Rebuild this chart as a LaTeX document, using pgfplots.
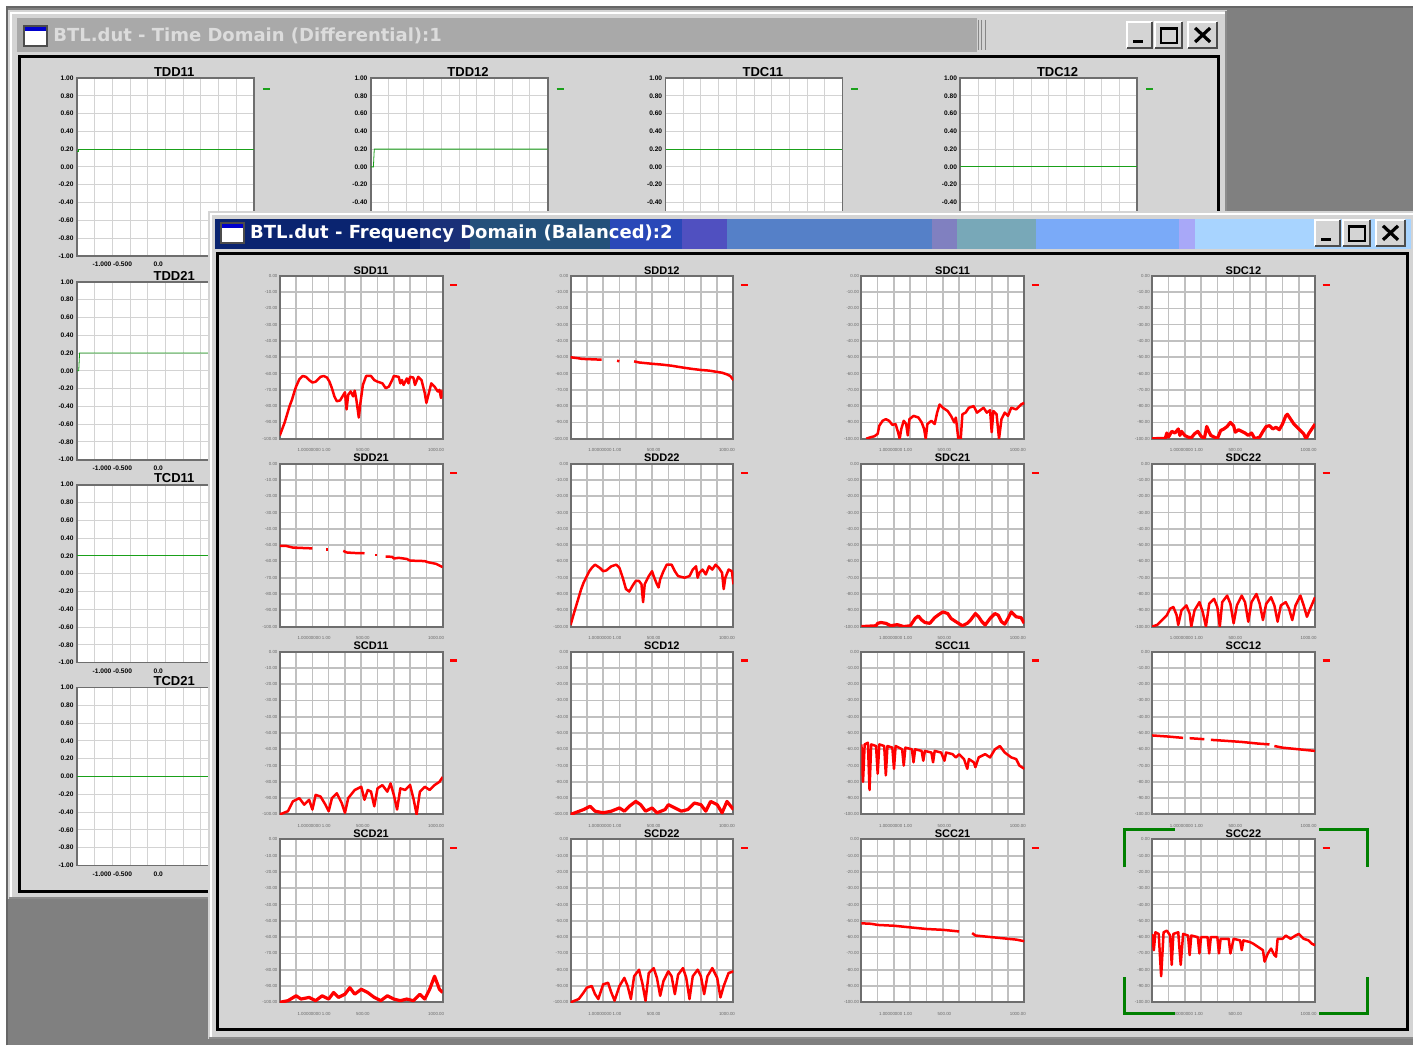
\documentclass[border=0pt]{standalone}
\usepackage{fontspec}
\setmainfont{Liberation Sans}
\newfontfamily\dvs{DejaVu Sans}
\usepackage{pgfplots}
\pgfplotsset{compat=1.18}
\definecolor{win}{HTML}{D4D4D4}
\definecolor{mdi}{HTML}{808080}
\definecolor{inact}{HTML}{A9A9A9}
\definecolor{gridc}{HTML}{C0C0C0}
\definecolor{framec}{HTML}{6E6E6E}
\definecolor{tgreen}{HTML}{1AA01A}
\definecolor{selgreen}{HTML}{008000}
\definecolor{labc}{HTML}{6A6A6A}
\definecolor{ttext}{HTML}{DCDCDC}
\definecolor{tba}{HTML}{0A2470}
\definecolor{tbb}{HTML}{1A3078}
\definecolor{tbc}{HTML}{24507A}
\definecolor{tbd}{HTML}{2A48B8}
\definecolor{tbe}{HTML}{5050C0}
\definecolor{tbf}{HTML}{5580C8}
\definecolor{tbg}{HTML}{8080C0}
\definecolor{tbh}{HTML}{78A8B8}
\definecolor{tbi}{HTML}{7AAAF8}
\definecolor{tbj}{HTML}{A8A8F8}
\definecolor{tbk}{HTML}{A8D4FF}

\pgfplotsset{
 base/.style={scale only axis, xmin=0,xmax=10,ymin=0,ymax=10,
   axis background/.style={fill=white},
   xtick={0,...,10}, ytick={0,...,10}, xticklabels={},
   grid=major, major tick length=0pt, no markers,
   every axis title shift=0pt,
   /pgf/number format/assume math mode=true,
   legend image code/.code={\draw[##1,line width=1.1pt](0pt,0pt)--(3.5pt,0pt);},
   legend style={draw=none, fill=none, inner sep=0pt, outer sep=0pt, anchor=west,
     font=\fontsize{1}{1}\selectfont},
 },
 fd/.style={base, width=81.5pt, height=81.5pt,
   major grid style={draw=gridc, line width=0.8pt},
   axis line style={draw=framec, line width=1pt},
   yticklabels={-100.00,-90.00,-80.00,-70.00,-60.00,-50.00,-40.00,-30.00,-20.00,-10.00,0.00},
   yticklabel style={font=\fontsize{2.2}{2.4}\selectfont, text=labc, inner sep=1pt},
   extra x ticks={2.1,5.1,9.6}, extra x tick labels={1.00000000 1.00, 500.00, 1000.00},
   extra x tick style={grid=none, xticklabel style={font=\fontsize{2.2}{2.4}\selectfont, text=labc, yshift=-1.5pt}},
   title style={at={(0.56,1)}, anchor=south, inner sep=0.6pt, yshift=0pt, font=\fontsize{5.5}{6}\selectfont\bfseries},
   cycle list={{red,line width=1.25pt,line join=round},{red,line width=1.25pt,line join=round},{red,line width=1.25pt,line join=round},{red,line width=1.25pt,line join=round},{red,line width=1.25pt,line join=round}},
   legend style={at={(1.04,0.945)}},
 },
 td/.style={base, width=88.5pt, height=89pt,
   major grid style={draw=gridc!70, line width=0.45pt},
   axis line style={draw=framec, line width=0.9pt},
   yticklabels={-1.00,-0.80,-0.60,-0.40,-0.20,0.00,0.20,0.40,0.60,0.80,1.00},
   yticklabel style={font=\fontsize{3.3}{3.5}\selectfont\bfseries, inner sep=1.5pt},
   title style={at={(0.55,1)}, anchor=south, inner sep=0.6pt, yshift=0pt, font=\fontsize{6.5}{7}\selectfont\bfseries},
   cycle list={{tgreen, line width=1.1pt}},
   legend style={at={(1.045,0.94)}},
 },
 tdtop/.style={td, yticklabels={,,,-0.40,-0.20,0.00,0.20,0.40,0.60,0.80,1.00}},
 tdx/.style={td,
   extra x ticks={2,4.6}, extra x tick labels={-1.000 -0.500, 0.0},
   extra x tick style={grid=none, xticklabel style={font=\fontsize{3.3}{3.5}\selectfont\bfseries, yshift=0.5pt}},
 },
}
% place axis north-west corner at reference pixel (x,y)
\newcommand{\PX}[2]{at={({0.5pt*#1},{-0.5pt*#2})}, anchor=north west}

\newcommand{\btns}[2]{%
 \begin{scope}[shift={(#1,#2)}]
  \foreach \a/\b in {0/25,28/55,61/90}{
   \fill[win] (\a,0) rectangle (\b,26);
   \draw[white,line width=1pt] (\a,26)--(\a,0)--(\b,0);
   \draw[black!70,line width=1pt] (\a,26)--(\b,26)--(\b,0);
  }
  \draw[black,line width=1.5pt] (6,20)--(16,20);
  \draw[black,line width=0.8pt] (34,6) rectangle (50,21);
  \draw[black,line width=1.5pt] (34,7)--(50,7);
  \draw[black,line width=1.6pt] (68,6)--(83,20) (68,20)--(83,6);
 \end{scope}}

\begin{document}
\begin{tikzpicture}[x=0.5pt,y=-0.5pt]
\fill[white] (0,0) rectangle (1414,1051);
\fill[mdi] (7,7) rectangle (1414,1046);
\draw[black!60, line width=1pt] (7,1046)--(7,7)--(1414,7);

% ---------------- time domain window
\fill[win] (8,10) rectangle (1228,900);
\draw[white, line width=1pt] (11,898)--(11,13)--(1226,13);
\draw[black!45, line width=1pt] (9,899)--(1227,899)--(1227,11);
\fill[inact] (17,18) rectangle (978,52);
\foreach \xx in {979,982,986} \draw[inact!80!black, line width=0.5pt] (\xx,20)--(\xx,50);
\fill[white] (24,26) rectangle (47,46);
\draw[black!70, line width=0.7pt] (24,26) rectangle (47,46);
\fill[blue!80!black] (25,27) rectangle (46,31);
\node[anchor=west, inner sep=0pt, text=ttext, font=\dvs\bfseries\fontsize{9}{10}\selectfont] at (53,36) {BTL.dut - Time Domain (Differential):1};
\btns{1128}{22}
\draw[black, line width=1.5pt, fill=win] (20,57) rectangle (1219,892);

\begin{axis}[tdx, \PX{77}{78}, title={TDD11}]
\addplot coordinates {(0,5.85)(0.06,5.85)(0.06,6)(10,6)}; \addlegendentry{}
\end{axis}
\begin{axis}[tdtop, \PX{371}{78}, title={TDD12}]
\addplot coordinates {(0,5)(0.15,5)(0.2,6)(10,6)}; \addlegendentry{}
\end{axis}
\begin{axis}[tdtop, \PX{666}{78}, title={TDC11}]
\addplot coordinates {(0,6)(10,6)}; \addlegendentry{}
\end{axis}
\begin{axis}[tdtop, \PX{961}{78}, title={TDC12}]
\addplot coordinates {(0,5)(10,5)}; \addlegendentry{}
\end{axis}
\begin{axis}[tdx, \PX{77}{282}, title={TDD21}]
\addplot coordinates {(0,5)(0.1,5)(0.15,6)(10,6)}; \addlegendentry{}
\end{axis}
\begin{axis}[tdx, \PX{77}{485}, title={TCD11}]
\addplot coordinates {(0,6)(10,6)}; \addlegendentry{}
\end{axis}
\begin{axis}[tdx, \PX{77}{688}, title={TCD21}]
\addplot coordinates {(0,5)(10,5)}; \addlegendentry{}
\end{axis}

% ---------------- frequency domain window
\fill[win] (208,211) rectangle (1414,1040);
\draw[white, line width=1pt] (211,1038)--(211,214)--(1414,214);
\draw[black!45, line width=1pt] (209,1039)--(1414,1039);
\fill[tba] (215,219) rectangle (420,249);
\fill[tbb] (420,219) rectangle (470,249);
\fill[tbc] (470,219) rectangle (610,249);
\fill[tbd] (610,219) rectangle (682,249);
\fill[tbe] (682,219) rectangle (728,249);
\fill[tbf] (728,219) rectangle (933,249);
\fill[tbg] (933,219) rectangle (958,249);
\fill[tbh] (958,219) rectangle (1037,249);
\fill[tbi] (1037,219) rectangle (1180,249);
\fill[tbj] (1180,219) rectangle (1196,249);
\fill[tbk] (1196,219) rectangle (1412,249);
\fill[white] (221,223) rectangle (244,243);
\draw[black!70, line width=0.7pt] (221,223) rectangle (244,243);
\fill[blue!80!black] (222,224) rectangle (243,228);
\node[anchor=west, inner sep=0pt, text=white, font=\dvs\bfseries\fontsize{9}{10}\selectfont] at (250,234) {BTL.dut - Frequency Domain (Balanced):2};
\btns{1316}{220}
\draw[black, line width=1.5pt, fill=win] (218,254) rectangle (1408,1030);

% row 1
\begin{axis}[fd, \PX{280}{276}, title={SDD11}]
\addplot coordinates {(0,0.2)(0.15,0.6)(0.3,1.0)(0.45,1.5)(0.6,2.0)(0.75,2.4)(0.9,2.9)(1.0,3.2)(1.2,3.65)(1.4,3.85)(1.6,3.8)(1.8,3.6)(2.0,3.45)(2.2,3.5)(2.5,3.8)(2.7,3.85)(2.9,3.75)(3.05,3.5)(3.2,3.1)(3.35,2.6)(3.5,2.3)(3.7,2.35)(3.85,2.6)(4.0,2.85)(4.1,1.8)(4.2,2.7)(4.35,2.9)(4.5,2.6)(4.6,2.95)(4.7,2.4)(4.85,1.3)(4.95,2.2)(5.1,3.3)(5.3,3.85)(5.6,3.85)(5.8,3.6)(6.0,3.5)(6.3,3.4)(6.5,3.1)(6.7,3.2)(6.9,3.6)(7.0,3.85)(7.3,3.8)(7.4,3.4)(7.5,3.6)(7.6,3.3)(7.8,3.7)(7.9,3.4)(8.0,3.8)(8.2,3.75)(8.3,3.3)(8.5,3.8)(8.7,3.6)(8.9,2.8)(9.0,2.2)(9.1,2.6)(9.3,3.4)(9.5,3.2)(9.7,2.9)(9.8,3.0)(9.9,2.5)(10,3.0)}; \addlegendentry{}
\end{axis}
\begin{axis}[fd, \PX{571}{276}, title={SDD12}]
\addplot coordinates {(0,5.0)(0.4,4.95)(0.7,4.9)(1.2,4.88)(1.9,4.85)}; \addlegendentry{}
\addplot coordinates {(2.85,4.78)(3.0,4.76)};
\addplot coordinates {(3.9,4.75)(4.2,4.68)(5.0,4.6)(5.6,4.55)(6.2,4.48)(7.0,4.35)(7.5,4.28)(8.0,4.22)(8.5,4.18)(9.0,4.1)(9.3,4.05)(9.6,3.95)(9.8,3.85)(10,3.6)};
\end{axis}
\begin{axis}[fd, \PX{862}{276}, title={SDC11}]
\addplot coordinates {(0.3,0.0)(0.6,0.1)(0.8,0.15)(1.0,0.3)(1.1,0.8)(1.3,1.1)(1.5,1.2)(1.7,1.1)(1.9,0.85)(2.1,0.9)(2.25,0.4)(2.35,0.0)(2.45,0.6)(2.6,1.1)(2.75,0.9)(2.85,0.2)(2.95,1.2)(3.2,1.4)(3.5,1.3)(3.7,1.0)(3.85,0.6)(3.95,0.0)(4.05,0.9)(4.3,1.1)(4.5,0.9)(4.65,1.6)(4.8,2.1)(5.0,1.9)(5.3,1.7)(5.5,1.4)(5.7,1.0)(5.8,1.3)(5.95,0.0)(6.1,0.0)(6.2,1.5)(6.4,1.6)(6.6,1.9)(6.9,2.0)(7.1,1.6)(7.3,1.75)(7.5,1.9)(7.7,1.6)(7.9,1.75)(8.0,0.4)(8.1,1.7)(8.3,1.5)(8.45,0.0)(8.6,1.2)(8.8,1.6)(9.0,1.4)(9.2,1.9)(9.5,1.8)(9.8,2.1)(10,2.2)}; \addlegendentry{}
\end{axis}
\begin{axis}[fd, \PX{1153}{276}, title={SDC12}]
\addplot+[line width=1.6pt] coordinates {(0,0)(0.8,0.02)(0.9,0.35)(1.0,0.1)(1.2,0.45)(1.4,0.35)(1.6,0.6)(1.7,0.2)(1.8,0.45)(2.0,0.2)(2.2,0.1)(2.4,0.05)(2.6,0.3)(2.8,0.45)(3.0,0.15)(3.2,0.0)(3.35,0.75)(3.5,0.4)(3.6,0.2)(3.8,0.1)(4.0,0.0)(4.2,0.5)(4.4,0.6)(4.6,0.75)(4.8,1.0)(5.0,0.8)(5.1,0.4)(5.3,0.55)(5.5,0.45)(5.7,0.35)(5.9,0.2)(6.1,0.35)(6.3,0.0)(6.6,0.1)(6.8,0.45)(7.0,0.75)(7.2,0.8)(7.4,0.6)(7.6,0.7)(7.8,0.55)(8.0,0.9)(8.2,1.4)(8.3,1.5)(8.5,1.2)(8.7,0.9)(8.9,0.7)(9.1,0.5)(9.3,0.3)(9.45,0.0)(9.6,0.3)(9.8,0.6)(10,0.9)}; \addlegendentry{}
\end{axis}

% row 2
\begin{axis}[fd, \PX{280}{464}, title={SDD21}]
\addplot coordinates {(0,4.95)(0.4,4.95)(0.8,4.85)(1.5,4.82)(2.0,4.8)}; \addlegendentry{}
\addplot coordinates {(2.85,4.72)(2.95,4.72)};
\addplot coordinates {(3.9,4.65)(4.1,4.55)(4.5,4.52)(5.2,4.5)};
\addplot coordinates {(5.85,4.4)(5.95,4.4)};
\addplot coordinates {(6.5,4.3)(6.9,4.28)(7.0,4.18)(7.3,4.22)(7.8,4.15)(8.0,4.05)(8.9,4.02)(9.1,3.95)(9.6,3.85)(10,3.65)};
\end{axis}
\begin{axis}[fd, \PX{571}{464}, title={SDD22}]
\addplot coordinates {(0,0.1)(0.2,0.8)(0.35,1.3)(0.5,1.8)(0.65,2.3)(0.8,2.7)(1.0,3.1)(1.15,3.4)(1.3,3.6)(1.5,3.8)(1.8,3.6)(2.0,3.4)(2.2,3.45)(2.5,3.7)(2.8,3.8)(3.0,3.6)(3.2,3.0)(3.4,2.3)(3.6,2.15)(3.8,2.5)(4.0,2.8)(4.2,2.8)(4.35,2.6)(4.45,1.5)(4.55,2.6)(4.8,3.1)(5.0,3.4)(5.1,3.1)(5.3,2.6)(5.4,2.4)(5.5,2.9)(5.7,3.4)(5.9,3.8)(6.2,3.8)(6.4,3.4)(6.6,3.1)(7.0,3.0)(7.3,3.1)(7.5,3.5)(7.7,3.7)(7.8,3.0)(7.9,3.3)(8.1,3.5)(8.3,3.2)(8.5,3.7)(8.7,3.5)(8.9,3.8)(9.1,3.6)(9.3,3.3)(9.4,2.3)(9.5,3.0)(9.7,3.5)(9.9,3.4)(10,2.6)}; \addlegendentry{}
\end{axis}
\begin{axis}[fd, \PX{862}{464}, title={SDC21}]
\addplot+[line width=1.6pt] coordinates {(0,0)(0.9,0.05)(1.0,0.2)(1.2,0.25)(1.5,0.2)(1.8,0.05)(2.2,0.12)(2.6,0.0)(3.0,0.05)(3.3,0.5)(3.5,0.65)(3.7,0.4)(3.9,0.25)(4.2,0.2)(4.5,0.55)(4.7,0.7)(5.0,0.9)(5.3,0.8)(5.5,0.5)(5.8,0.3)(6.2,0.05)(6.5,0.2)(6.7,0.4)(7.0,0.8)(7.2,0.6)(7.4,0.3)(7.6,0.1)(7.9,0.5)(8.2,0.8)(8.4,0.7)(8.6,0.3)(8.8,0.15)(9.0,0.5)(9.2,0.9)(9.5,0.6)(9.8,0.55)(10,0.2)}; \addlegendentry{}
\end{axis}
\begin{axis}[fd, \PX{1153}{464}, title={SDC22}]
\addplot coordinates {(0,0)(0.3,0.1)(0.6,0.4)(0.9,0.7)(1.1,1.1)(1.3,1.2)(1.5,0.7)(1.6,0.1)(1.8,1.0)(2.1,1.3)(2.3,0.8)(2.4,0.0)(2.6,1.0)(2.9,1.5)(3.1,0.9)(3.3,0.0)(3.5,1.4)(3.8,1.7)(4.0,1.2)(4.15,0.0)(4.3,1.5)(4.6,1.9)(4.8,1.4)(5.0,0.2)(5.2,1.3)(5.5,1.9)(5.7,1.5)(5.9,0.3)(6.1,1.5)(6.4,2.0)(6.6,1.4)(6.8,0.4)(7.0,1.4)(7.3,1.8)(7.5,1.3)(7.7,0.3)(7.9,1.3)(8.2,1.5)(8.4,1.1)(8.6,0.4)(8.8,1.3)(9.1,1.9)(9.3,1.3)(9.5,0.6)(9.7,1.1)(10,1.8)}; \addlegendentry{}
\end{axis}

% row 3
\begin{axis}[fd, \PX{280}{652}, title={SCD11}]
\addplot coordinates {(0,0)(0.5,0.2)(0.8,0.8)(1.2,1.0)(1.5,0.6)(1.8,0.9)(2.0,0.3)(2.2,1.2)(2.5,1.1)(2.8,0.6)(3.0,0.2)(3.2,1.0)(3.5,1.3)(3.8,0.7)(4.0,0.1)(4.2,1.0)(4.6,1.5)(5.0,1.7)(5.2,0.9)(5.4,1.5)(5.6,1.4)(5.8,0.5)(6.0,1.6)(6.3,1.8)(6.6,1.4)(6.8,1.9)(7.0,1.2)(7.2,0.3)(7.4,1.6)(7.7,1.5)(8.0,1.8)(8.2,1.0)(8.4,0.0)(8.6,1.4)(8.9,1.7)(9.2,1.5)(9.5,1.8)(9.8,2.0)(10,2.3)}; \addlegendentry{}
\end{axis}
\begin{axis}[fd, \PX{571}{652}, title={SCD12}]
\addplot+[line width=1.6pt] coordinates {(0,0)(0.8,0.3)(1.2,0.5)(1.5,0.2)(2.0,0.1)(2.5,0.2)(3.0,0.4)(3.3,0.2)(3.6,0.5)(4.0,0.8)(4.3,0.6)(4.6,0.2)(5.0,0.4)(5.3,0.1)(5.8,0.3)(6.0,0.6)(6.4,0.4)(6.8,0.2)(7.2,0.3)(7.6,0.7)(8.0,0.6)(8.3,0.2)(8.6,0.8)(9.0,0.6)(9.3,0.1)(9.6,0.8)(10,0.3)}; \addlegendentry{}
\end{axis}
\begin{axis}[fd, \PX{862}{652}, title={SCC11}]
\addplot coordinates {(0,4.3)(0.1,2.0)(0.2,4.3)(0.4,4.4)(0.5,1.5)(0.6,4.3)(0.9,4.2)(1.0,2.5)(1.1,4.3)(1.4,4.2)(1.5,2.4)(1.6,4.2)(1.9,4.1)(2.0,2.8)(2.1,4.2)(2.5,4.0)(2.6,3.0)(2.7,4.1)(3.1,4.0)(3.2,3.2)(3.3,4.0)(3.7,3.9)(3.8,3.3)(3.9,3.9)(4.3,3.8)(4.4,3.2)(4.5,3.9)(4.9,3.8)(5.1,3.3)(5.2,3.8)(5.6,3.7)(5.8,3.5)(6.0,3.7)(6.3,3.4)(6.5,2.8)(6.6,3.4)(6.9,3.2)(7.0,2.9)(7.2,3.5)(7.6,3.7)(7.9,3.5)(8.2,4.0)(8.5,4.2)(8.8,3.8)(9.2,3.5)(9.5,3.4)(9.7,3.0)(10,2.8)}; \addlegendentry{}
\end{axis}
\begin{axis}[fd, \PX{1153}{652}, title={SCC12}]
\addplot coordinates {(0,4.85)(1.0,4.78)(1.9,4.7)}; \addlegendentry{}
\addplot coordinates {(2.3,4.68)(3.2,4.62)};
\addplot coordinates {(3.6,4.58)(4.5,4.52)(5.5,4.45)(6.5,4.35)(7.2,4.3)};
\addplot coordinates {(7.5,4.2)(8.0,4.1)(8.5,4.05)(9.0,4.0)(9.5,3.95)(10,3.9)};
\end{axis}

% row 4
\begin{axis}[fd, \PX{280}{840}, title={SCD21}]
\addplot+[line width=1.6pt] coordinates {(0,0)(0.5,0.1)(1.0,0.4)(1.3,0.2)(1.8,0.3)(2.2,0.1)(2.6,0.4)(3.0,0.2)(3.3,0.6)(3.6,0.3)(4.0,0.5)(4.3,0.9)(4.6,0.5)(5.0,0.8)(5.4,0.6)(5.8,0.3)(6.2,0.1)(6.6,0.4)(7.0,0.2)(7.4,0.1)(7.8,0.2)(8.2,0.1)(8.6,0.5)(8.9,0.2)(9.2,0.8)(9.5,1.6)(9.8,0.8)(10,0.6)}; \addlegendentry{}
\end{axis}
\begin{axis}[fd, \PX{571}{840}, title={SCD22}]
\addplot coordinates {(0,0)(0.5,0.2)(0.8,0.6)(1.0,0.9)(1.3,1.0)(1.5,0.5)(1.7,0.2)(2.0,1.1)(2.3,1.2)(2.5,0.6)(2.7,0.1)(3.0,1.0)(3.3,1.5)(3.5,1.0)(3.7,0.2)(3.9,1.6)(4.2,2.0)(4.4,1.2)(4.6,0.1)(4.8,1.8)(5.1,2.1)(5.3,1.5)(5.5,0.4)(5.7,1.3)(6.0,1.9)(6.2,1.6)(6.4,0.5)(6.6,1.7)(6.9,2.1)(7.1,1.5)(7.3,0.2)(7.5,1.6)(7.8,2.0)(8.0,1.6)(8.2,0.5)(8.4,1.6)(8.7,2.1)(9.0,1.5)(9.2,0.3)(9.4,1.0)(9.7,1.8)(10,1.9)}; \addlegendentry{}
\end{axis}
\begin{axis}[fd, \PX{862}{840}, title={SCC21}]
\addplot coordinates {(0,4.85)(0.6,4.82)(1.0,4.75)(2.0,4.7)(3.0,4.6)(4.0,4.5)(5.0,4.45)(6.0,4.35)}; \addlegendentry{}
\addplot coordinates {(6.8,4.25)(7.0,4.1)(7.5,4.05)(8.5,3.95)(9.5,3.85)(10,3.75)};
\end{axis}
\begin{axis}[fd, \PX{1153}{840}, title={SCC22}]
\addplot coordinates {(0,4.2)(0.1,3.2)(0.2,4.3)(0.4,4.2)(0.55,1.6)(0.7,4.3)(0.9,4.4)(1.1,4.1)(1.2,2.3)(1.3,4.2)(1.6,4.3)(1.75,2.3)(1.9,4.2)(2.2,4.1)(2.3,2.9)(2.4,4.1)(2.8,4.0)(2.9,3.0)(3.0,4.0)(3.4,4.0)(3.5,3.0)(3.6,4.0)(4.0,4.0)(4.1,3.0)(4.2,3.9)(4.7,3.9)(4.8,3.0)(5.0,3.9)(5.4,3.8)(5.5,3.2)(5.6,3.8)(6.0,3.7)(6.2,3.6)(6.5,3.4)(6.8,3.2)(6.9,2.5)(7.1,3.0)(7.3,3.3)(7.5,2.9)(7.6,2.8)(7.7,3.9)(8.0,3.9)(8.2,4.1)(8.5,3.9)(8.8,4.1)(9.0,4.2)(9.3,3.9)(9.6,3.8)(9.8,3.6)(10,3.5)}; \addlegendentry{}
\end{axis}

% selection brackets
\draw[selgreen, line width=1.5pt] (1125,868)--(1125,830)--(1176,830);
\draw[selgreen, line width=1.5pt] (1320,830)--(1368,830)--(1368,868);
\draw[selgreen, line width=1.5pt] (1125,978)--(1125,1014)--(1176,1014);
\draw[selgreen, line width=1.5pt] (1320,1014)--(1368,1014)--(1368,978);
\end{tikzpicture}
\end{document}
